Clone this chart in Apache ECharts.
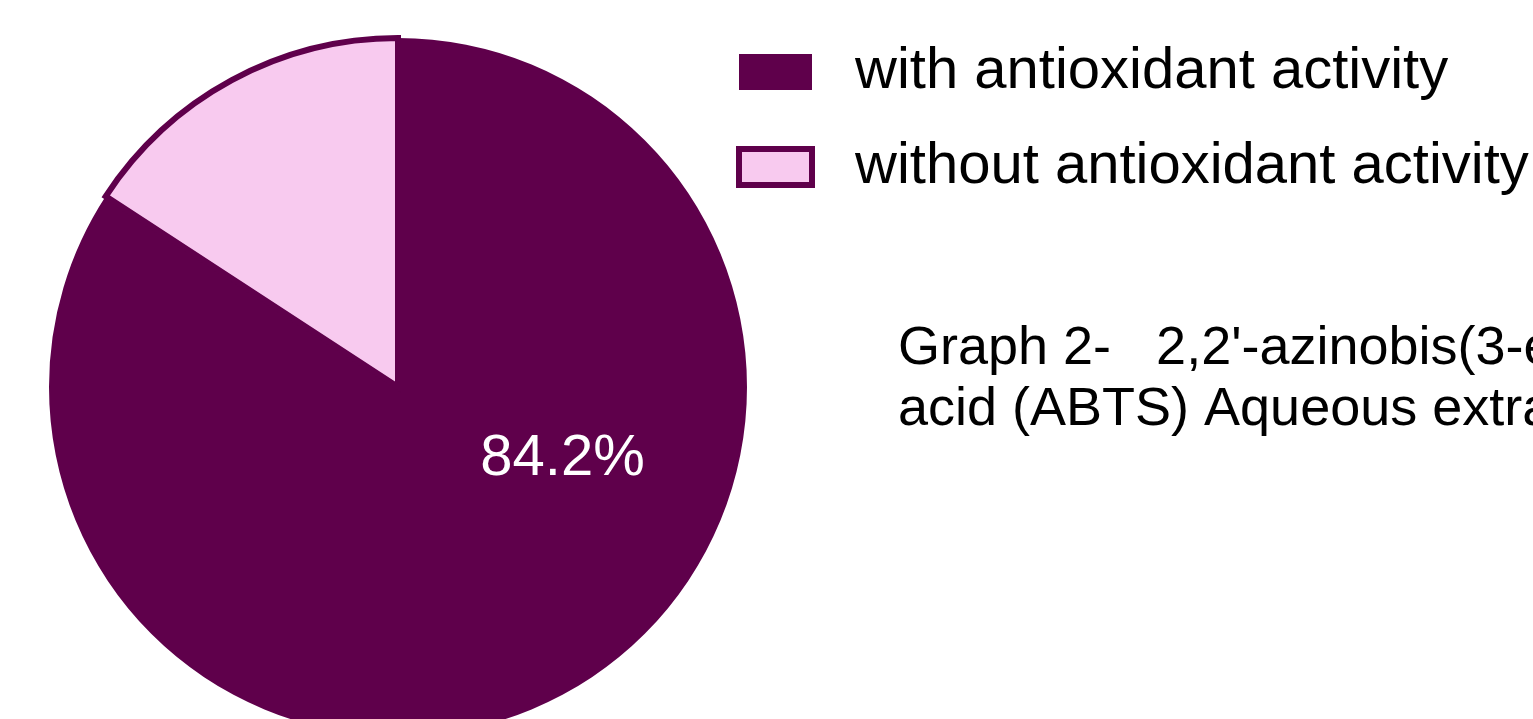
<!DOCTYPE html>
<html>
<head>
<meta charset="utf-8">
<script src="https://cdn.jsdelivr.net/npm/echarts@6/dist/echarts.min.js"></script>
<style>
  html, body { margin: 0; padding: 0; background: #ffffff; }
  #chart { width: 1533px; height: 719px; }
</style>
</head>
<body>
<div id="chart"></div>
<script>
// Share of aqueous extracts by ABTS antioxidant result (%)
const categories = ['with antioxidant activity', 'without antioxidant activity'];
const shares = [84.2, 15.8];
const captionLines = [
  "Graph 2-   2,2'-azinobis(3-ethylbenzothiazoline-6-sulfonic",
  'acid (ABTS) Aqueous extract'
];

const DARK = '#5f004b';
const LIGHT = '#f8caef';
const FONT = '"Liberation Sans", Arial, sans-serif';

const sliceStyles = [
  { color: DARK, borderWidth: 0 },
  { color: LIGHT, borderColor: DARK, borderWidth: 6, borderJoin: 'miter' }
];

const chart = echarts.init(document.getElementById('chart'), null, { renderer: 'canvas' });

chart.setOption({
  animation: false,
  backgroundColor: '#ffffff',
  legend: {
    orient: 'vertical',
    left: 736,
    top: 43,
    padding: 0,
    itemWidth: 73,
    itemHeight: 36,
    itemGap: 37,
    selectedMode: false,
    textStyle: {
      fontFamily: FONT,
      fontSize: 58,
      lineHeight: 57,
      color: '#000000',
      padding: [0, 0, 0, 38]
    },
    data: categories.map((name, i) => ({
      name,
      icon: 'rect',
      itemStyle: i === 1
        ? { color: LIGHT, borderColor: DARK, borderWidth: 6 }
        : { color: DARK, borderWidth: 0 }
    }))
  },
  graphic: [{
    type: 'text',
    left: 898,
    top: 319,
    style: {
      text: captionLines.join('\n'),
      fontFamily: FONT,
      fontSize: 54,
      lineHeight: 61,
      fill: '#000000'
    }
  }],
  series: [{
    type: 'pie',
    center: [398, 387],
    radius: 349,
    startAngle: 90,
    clockwise: true,
    avoidLabelOverlap: false,
    silent: true,
    labelLine: { show: false },
    data: categories.map((name, i) => ({
      name,
      value: shares[i],
      itemStyle: sliceStyles[i],
      label: i === 0
        ? {
            show: true,
            position: 'inside',
            formatter: '{d}%',
            offset: [80, -84],
            fontFamily: '"Liberation Sans Narrow", "Arial Narrow", "Liberation Sans", Arial, sans-serif',
            fontSize: 58,
            color: '#ffffff'
          }
        : { show: false }
    }))
  }]
});
</script>
</body>
</html>
